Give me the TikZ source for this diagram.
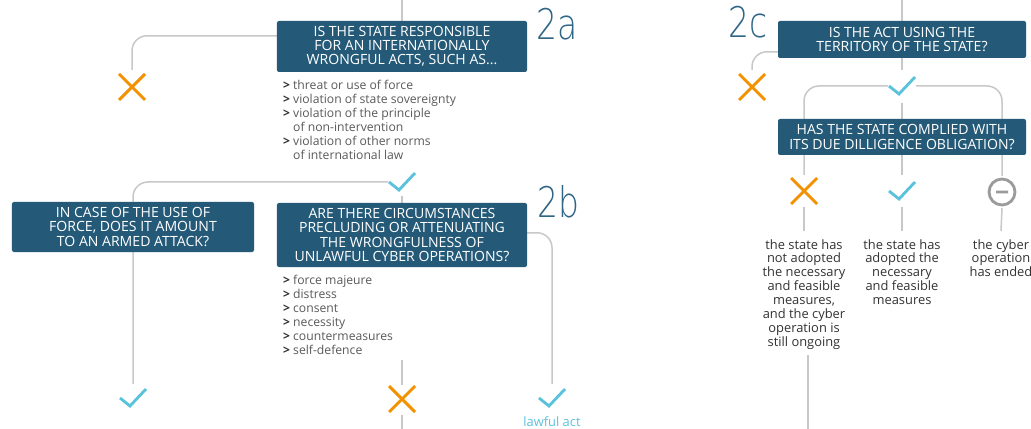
\documentclass[tikz,border=0pt]{standalone}
\usepackage{fontspec}
\setmainfont{Open Sans}
\newfontfamily\numfont[FakeStretch=0.78]{DejaVu Sans ExtraLight}
\usetikzlibrary{calc,backgrounds}
\definecolor{boxblue}{HTML}{245A78}
\definecolor{numblue}{HTML}{2F6585}
\definecolor{okblue}{HTML}{5BC2DC}
\definecolor{noorange}{HTML}{F39200}
\definecolor{linegrey}{HTML}{C8C8C8}
\definecolor{endgrey}{HTML}{9B9B9B}
\definecolor{txtgrey}{HTML}{333333}
\definecolor{listgrey}{HTML}{5A5A5A}
\def\itm#1{\makebox[8.5pt][l]{\bfseries\color{txtgrey}>}#1}
\def\cnt#1{\hspace*{8.5pt}#1}

\begin{document}
\begin{tikzpicture}[x=0.03cm,y=-0.03cm,
	question/.style={fill=boxblue, rounded corners=0.06cm, text=white, align=center, inner sep=0pt, font=\fontsize{12}{12.2}\selectfont},
	items/.style={anchor=north west, align=left, inner sep=0pt, text=listgrey, font=\fontsize{10.4}{11.9}\selectfont},
	answer/.style={anchor=north, align=center, inner sep=0pt, text=txtgrey, font=\fontsize{11}{11.9}\selectfont},
	icon/.style={minimum size=0.84cm, inner sep=0pt},
	num/.style={text=numblue, inner sep=0pt, font=\numfont\fontsize{36}{36}\selectfont},
	link/.style={draw=linegrey, line width=0.045cm},
	elbow/.style={link, rounded corners=0.45cm},
	nostroke/.style={draw=noorange, line width=0.085cm},
	okstroke/.style={draw=okblue, line width=0.085cm},
	endstroke/.style={draw=endgrey, line width=0.085cm}]
	\useasboundingbox (0,0) rectangle (1031,429);
	%%%%% 2a %%%%%
	\coordinate (top2a) at (402,0);
	\node[question, minimum width=7.5cm, minimum height=1.53cm] (q2a) at (402,46.5)
		{IS THE STATE RESPONSIBLE\\FOR AN INTERNATIONALLY\\WRONGFUL ACTS, SUCH AS...};
	\node[num] (n2a) at (557,24) {2a};
	\node[items] (list2a) at (283,80) {\itm{threat or use of force}\\
		\itm{violation of state sovereignty}\\
		\itm{violation of the principle}\\
		\cnt{of non-intervention}\\
		\itm{violation of other norms}\\
		\cnt{of international law}};
	\node[icon] (no2a) at (132,87) {};
	\node[icon] (yes2a) at (402,182) {};
	
	%%%%% armed attack %%%%%
	\node[question, minimum width=7.26cm, minimum height=1.5cm] (qforce) at (133,227)
		{IN CASE OF THE USE OF\\FORCE, DOES IT AMOUNT\\TO AN ARMED ATTACK?};
	\node[icon] (yesforce) at (133,398) {};
	
	%%%%% 2b %%%%%
	\node[question, minimum width=7.5cm, minimum height=1.92cm] (q2b) at (402,235)
		{ARE THERE CIRCUMSTANCES\\PRECLUDING OR ATTENUATING\\THE WRONGFULNESS OF\\UNLAWFUL CYBER OPERATIONS?};
	\node[num] (n2b) at (558,202) {2b};
	\node[items] (list2b) at (283,275) {\itm{force majeure}\\
		\itm{distress}\\
		\itm{consent}\\
		\itm{necessity}\\
		\itm{countermeasures}\\
		\itm{self-defence}};
	\coordinate (cut2b) at (402,360);
	\coordinate (out2b) at (402,429);
	\node[icon] (no2b) at (402,399) {};
	\node[icon] (lawful) at (552,398) {};
	\node[answer, text=okblue] (lawtxt) at (552,416.5) {lawful act};
	
	%%%%% 2c %%%%%
	\coordinate (top2c) at (902,0);
	\node[question, minimum width=7.44cm, minimum height=1.11cm] (q2c) at (902,39.5)
		{IS THE ACT USING THE\\TERRITORY OF THE STATE?};
	\node[num] (n2c) at (748,22) {2c};
	\node[icon] (no2c) at (752,87) {};
	\node[icon] (yes2c) at (902,86) {};
	\node[question, minimum width=7.44cm, minimum height=1.08cm] (qdue) at (902,137)
		{HAS THE STATE COMPLIED WITH\\ITS DUE DILLIGENCE OBLIGATION?};
	\node[icon] (nodue) at (804,191) {};
	\node[icon] (yesdue) at (902,191) {};
	\node[icon] (enddue) at (1002,192) {};
	\node[answer] (txt1) at (804,239) {the state has\\not adopted\\the necessary\\and feasible\\measures,\\and the cyber\\operation is\\still ongoing};
	\node[answer] (txt2) at (902,239) {the state has\\adopted the\\necessary\\and feasible\\measures};
	\node[answer] (txt3) at (1001,239) {the cyber\\operation\\has ended};
	\coordinate (out1) at (808,429);
	
	%%%%% marks %%%%%
	\foreach \n in {no2a,no2b,no2c,nodue}
		\draw[nostroke] ($(\n)+(-13,-13)$) -- ($(\n)+(13,13)$) ($(\n)+(-13,13)$) -- ($(\n)+(13,-13)$);
	\foreach \n in {yes2a,yesforce,lawful,yes2c,yesdue}
		\draw[okstroke] ($(\n)+(-13,0)$) -- ($(\n)+(-3,8)$) -- ($(\n)+(13,-9)$);
	\draw[endstroke] (enddue) circle (0.39cm) ($(enddue)+(-6,0)$) -- ($(enddue)+(6,0)$);
	
	%%%%% connectors %%%%%
	\begin{scope}[on background layer]
		\fill[white] (0,0) rectangle (1031,429);
		\draw[link] (top2a) -- (q2a.north);
		\draw[elbow] ($(q2a.north west)+(0,15)$) -| ($(no2a.north)+(0,-3)$);
		\draw[elbow] (yes2a.west) -| (yesforce.north);
		\draw[link] (yes2a.south) -- (q2b.north);
		\draw[elbow] ($(q2b.north east)+(0,30)$) -| (lawful.north);
		\draw[link] (cut2b) -- (no2b.north);
		\draw[link] ($(no2b.south)+(0,2)$) -- (out2b);
		\draw[link] (top2c) -- (q2c.north);
		\draw[link] (q2c.south) -- ($(yes2c.north)+(0,-2)$);
		\draw[elbow] ($(q2c.north west)+(0,31)$) -| ($(no2c.north)+(0,-3)$);
		\draw[elbow] (yes2c.west) -| ($(nodue.north)+(0,-2)$);
		\draw[elbow] (yes2c.east) -| ($(enddue.north)+(0,-2)$);
		\draw[link] ($(yes2c.south)+(0,3)$) -- (qdue.north);
		\draw[link] (qdue.south) -- ($(yesdue.north)+(0,-2)$);
		\draw[link] ($(nodue.south)+(0,2)$) -- ($(txt1.north)+(0,-8)$);
		\draw[link] ($(yesdue.south)+(0,2)$) -- ($(txt2.north)+(0,-8)$);
		\draw[link] ($(enddue.south)+(0,2)$) -- ($(txt3.north)+(0,-8)$);
		\draw[link] ($(txt1.south -| out1)+(0,5)$) -- (out1);
	\end{scope}
\end{tikzpicture}
\end{document}
